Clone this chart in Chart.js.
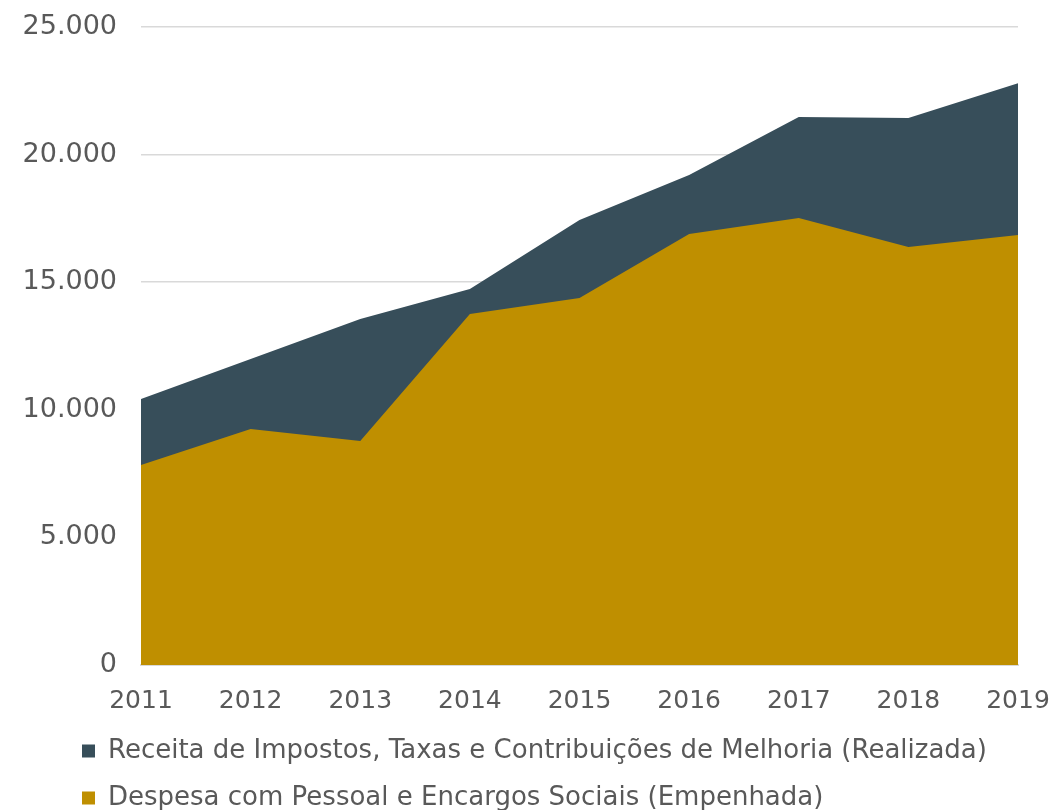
<!DOCTYPE html>
<html>
<head>
<meta charset="utf-8">
<script src="https://cdn.jsdelivr.net/npm/chart.js@4/dist/chart.umd.min.js"></script>
<style>
  html, body { margin: 0; padding: 0; background: #ffffff; }
  #wrap { width: 1051px; height: 810px; position: relative; }
</style>
</head>
<body>
<div id="wrap"><canvas id="c"></canvas></div>
<script>
const years = ['2011','2012','2013','2014','2015','2016','2017','2018','2019'];
const receita = [10420, 11990, 13560, 14730, 17440, 19200, 21470, 21430, 22800];
const despesa = [7840, 9250, 8780, 13750, 14380, 16890, 17520, 16380, 16850];
const seriesNames = [
  'Receita de Impostos, Taxas e Contribuições de Melhoria (Realizada)',
  'Despesa com Pessoal e Encargos Sociais (Empenhada)'
];
const yTicks = { min: 0, max: 25000, step: 5000 };

const FONT = 'DejaVu Sans';
const TEXT = '#595959';

const legendShift = {
  id: 'legendShift',
  beforeDraw(chart) {
    if (chart.legend) { chart.legend.left = 61; }
  }
};

new Chart(document.getElementById('c'), {
  type: 'line',
  data: {
    labels: years,
    datasets: [
      {
        label: seriesNames[0],
        data: receita,
        backgroundColor: '#374E5A',
        borderColor: '#374E5A',
        borderWidth: 0,
        pointRadius: 0,
        fill: 'origin',
        tension: 0,
        order: 2
      },
      {
        label: seriesNames[1],
        data: despesa,
        backgroundColor: '#BF8F00',
        borderColor: '#BF8F00',
        borderWidth: 0,
        pointRadius: 0,
        fill: 'origin',
        tension: 0,
        order: 1
      }
    ]
  },
  plugins: [legendShift],
  options: {
    responsive: true,
    maintainAspectRatio: false,
    animation: false,
    layout: { padding: { top: 27, left: 0, right: 0, bottom: -11 } },
    scales: {
      x: {
        offset: false,
        grid: { display: false, drawTicks: false },
        border: { display: true, color: '#D9D9D9', width: 2 },
        ticks: { color: TEXT, font: { family: FONT, size: 25 }, padding: 21, maxRotation: 0 },
        afterFit(scale) {
          scale.height = 52;
          scale.paddingLeft = 0;
          scale.paddingRight = 33;
        }
      },
      y: {
        min: yTicks.min,
        max: yTicks.max,
        grid: { color: '#D9D9D9', lineWidth: 1.5, drawTicks: false },
        border: { display: false },
        ticks: {
          stepSize: yTicks.step,
          color: TEXT,
          font: { family: FONT, size: 27 },
          padding: 24,
          callback: v => v.toLocaleString('pt-BR')
        },
        afterFit(scale) {
          scale.width = 141;
          scale.paddingTop = 0;
          scale.paddingBottom = 0;
        }
      }
    },
    plugins: {
      legend: {
        position: 'bottom',
        align: 'start',
        labels: {
          color: TEXT,
          font: { family: FONT, size: 26 },
          boxWidth: 13,
          boxHeight: 13,
          padding: 21,
          sort: (a, b) => a.datasetIndex - b.datasetIndex
        }
      },
      tooltip: { enabled: false }
    }
  }
});
</script>
</body>
</html>
